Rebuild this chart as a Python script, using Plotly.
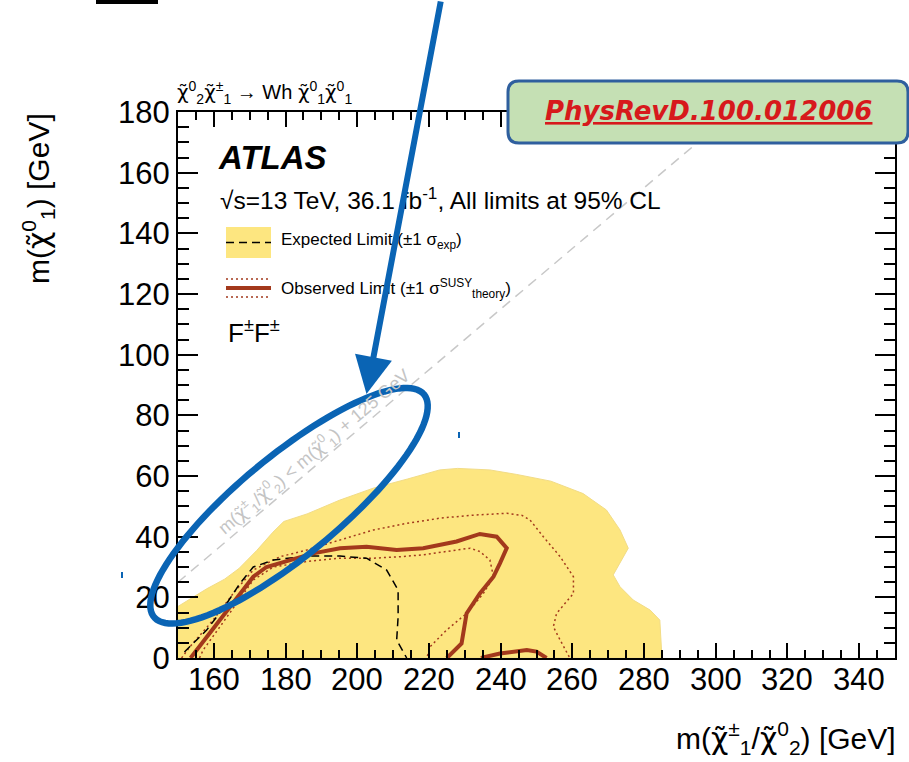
import numpy as np
import plotly.graph_objects as go

# ---------------- data ----------------
# expected +-1 sigma band outline (m(chi1+-/chi20), m(chi10)) in GeV
band_x = [150, 152, 158, 163, 167, 172, 176.5, 179.5, 186, 195, 204.5, 214, 223, 228,
          237, 244.5, 254, 263, 269.5, 273.3, 275.6, 271.4, 273.3, 277, 281.7, 284.4,
          285, 285, 150]
band_y = [17, 18.5, 22.8, 26, 29.5, 35.5, 41.5, 45, 47.5, 52, 56, 59, 62, 62.5,
          62, 60.5, 58.3, 54.2, 48.8, 42.2, 36.2, 27.4, 23.5, 19.1, 15.8, 12.5,
          2.6, 0, 0]

# expected limit (dashed)
exp_x = [151.8, 158, 163.6, 167.3, 171, 176.6, 185.9, 195.2, 202.6, 208.2, 211.4, 211.4, 211, 213.8]
exp_y = [2, 9.2, 18, 24.6, 30, 32.3, 33.6, 33.6, 32.9, 29, 22.4, 13.6, 5.9, 0]

# observed limit (solid), two pieces
obs_x = [153.5, 158, 163.6, 167.3, 171, 174.7, 181.2, 187.7, 195.2, 202.6, 211, 218.4,
         227.7, 234.2, 238.9, 241.7, 239.8, 238, 234.2, 230.5, 229.1, 225]
obs_y = [0, 7, 15.8, 21.3, 26.8, 30, 32.3, 34.5, 36.2, 36.7, 35.6, 36.2,
         38.4, 40.9, 40, 36.2, 31.2, 26.8, 21.3, 14.7, 4.8, 0]
obs2_x = [234.5, 239.8, 247.3, 250, 252.8]
obs2_y = [0, 1.5, 2.6, 2.1, 0]

# observed +1 sigma theory (dotted)
obs_up_x = [151, 153.3, 159.8, 165.4, 171, 178.5, 185.9, 195.2, 204.5, 213.8, 223.1, 232.4,
            241.7, 246, 248.2, 251.9, 256.6, 260.3, 260.3, 255.6, 254.7, 256.6, 259.3]
obs_up_y = [0, 3.7, 12.5, 21.3, 29, 33.4, 35.6, 38.9, 42.2, 44.4, 46.1, 47.1,
            47.7, 47, 45.5, 40, 33.4, 26.8, 21.3, 14.7, 10.3, 5.9, 0]
# observed -1 sigma theory (dotted)
obs_dn_x = [156, 157, 161.7, 166.4, 171, 176.6, 185.9, 195.2, 204.5, 212, 218.4, 227.7,
            231.5, 234.2, 237, 238, 235.2, 230.5, 224.9, 220.3, 219.4]
obs_dn_y = [0, 2.6, 10.3, 18, 25.7, 30, 31.8, 32.9, 32.9, 33.4, 34, 35.6,
            36.2, 35.1, 32.3, 26.8, 21.3, 14.7, 9.2, 3.7, 0]

# kinematic limit m(chi1+-/chi20) = m(chi10) + m_h
M_HIGGS = 125
diag_x = [150, 305]
diag_y = [x - M_HIGGS for x in diag_x]

x_ticks = list(range(160, 341, 20))
y_ticks = list(range(0, 181, 20))

# ---------------- geometry helpers ----------------
W, H = 909, 762
L, R, T, B = 178, 14, 112, 104
PW, PH = W - L - R, H - T - B


def pp(xp, yp):
    """pixel -> paper"""
    return (xp - L) / PW, (H - B - yp) / PH


FONT = "Liberation Sans, Arial, sans-serif"
OBS_C = "#a3391c"
BLUE = "#0a64b4"
CHI = '<span style="font-family:\'DejaVu Sans\'">\u03c7\u0303</span>'

fig = go.Figure()

fig.add_trace(go.Scatter(x=band_x, y=band_y, mode="lines", fill="toself",
                         fillcolor="#fde680", line=dict(color="#f2dc86", width=1),
                         hoverinfo="skip", showlegend=False))
fig.add_trace(go.Scatter(x=diag_x, y=diag_y, mode="lines",
                         line=dict(color="#c8c8c8", width=1.5, dash="10px,7px"),
                         hoverinfo="skip", showlegend=False))
for xs, ys in [(obs_up_x, obs_up_y), (obs_dn_x, obs_dn_y)]:
    fig.add_trace(go.Scatter(x=xs, y=ys, mode="lines",
                             line=dict(color=OBS_C, width=1.5, dash="2px,3px"),
                             hoverinfo="skip", showlegend=False))
fig.add_trace(go.Scatter(x=exp_x, y=exp_y, mode="lines",
                         line=dict(color="black", width=1.5, dash="8px,5px"),
                         hoverinfo="skip", showlegend=False))
for xs, ys in [(obs_x, obs_y), (obs2_x, obs2_y)]:
    fig.add_trace(go.Scatter(x=xs, y=ys, mode="lines",
                             line=dict(color=OBS_C, width=4),
                             hoverinfo="skip", showlegend=False))

shapes = []
# legend symbols
x0, y0 = pp(226, 258)
x1, y1 = pp(271, 227)
shapes.append(dict(type="rect", xref="paper", yref="paper", x0=x0, y0=y0, x1=x1, y1=y1,
                   fillcolor="#fde680", line=dict(width=0), layer="above"))
_, ym = pp(0, 242.5)
shapes.append(dict(type="line", xref="paper", yref="paper", x0=x0, x1=x1, y0=ym, y1=ym,
                   line=dict(color="black", width=1.5, dash="8px,5px"), layer="above"))
for ypx, wdt, dsh in [(279, 1.5, "2px,3px"), (297, 1.5, "2px,3px"), (288, 4, "solid")]:
    _, yy = pp(0, ypx)
    shapes.append(dict(type="line", xref="paper", yref="paper", x0=x0, x1=x1, y0=yy, y1=yy,
                       line=dict(color=OBS_C, width=wdt, dash=dsh), layer="above"))

# blue ellipse
cx, cy, a, b, th = 289, 505.75, 175, 50, np.radians(39.5)
t = np.linspace(0, 2 * np.pi, 120)
ex = cx + a * np.cos(t) * np.cos(th) - b * np.sin(t) * np.sin(th)
ey = cy - (a * np.cos(t) * np.sin(th) + b * np.sin(t) * np.cos(th))
pts = [pp(u, v) for u, v in zip(ex, ey)]
path = "M " + " L ".join(f"{u:.5f},{v:.5f}" for u, v in pts) + " Z"
shapes.append(dict(type="path", xref="paper", yref="paper", path=path,
                   line=dict(color=BLUE, width=6.5), layer="above"))

# green reference box (rounded)
bx0, by0, bx1, by1, rr = 508, 81, 908, 143, 11


def P(u, v):
    q = pp(u, v)
    return f"{q[0]:.5f},{q[1]:.5f}"


box = (f"M {P(bx0+rr, by0)} L {P(bx1-rr, by0)} Q {P(bx1, by0)} {P(bx1, by0+rr)} "
       f"L {P(bx1, by1-rr)} Q {P(bx1, by1)} {P(bx1-rr, by1)} "
       f"L {P(bx0+rr, by1)} Q {P(bx0, by1)} {P(bx0, by1-rr)} "
       f"L {P(bx0, by0+rr)} Q {P(bx0, by0)} {P(bx0+rr, by0)} Z")
shapes.append(dict(type="path", xref="paper", yref="paper", path=box,
                   fillcolor="#c5e0b4", line=dict(color="#2f5f9e", width=3), layer="above"))

# small stray marks of the slide
for (u, v0, v1) in [(459, 432, 438), (122, 572, 578)]:
    a0 = pp(u, v0)
    a1 = pp(u, v1)
    shapes.append(dict(type="line", xref="paper", yref="paper", x0=a0[0], x1=a1[0],
                       y0=a0[1], y1=a1[1], line=dict(color=BLUE, width=2), layer="above"))
q0 = pp(96, 0)
q1 = pp(158, 4)
shapes.append(dict(type="rect", xref="paper", yref="paper", x0=q0[0], x1=q1[0],
                   y0=q1[1], y1=q0[1], fillcolor="black", line=dict(width=0), layer="above"))

ann = []


def text(xpx, ypx, s, size, color="black", xanchor="left", family=FONT, **kw):
    u, v = pp(xpx, ypx)
    d = dict(xref="paper", yref="paper", x=u, y=v, text=s, showarrow=False,
             xanchor=xanchor, yanchor="middle",
             font=dict(family=family, size=size, color=color))
    d.update(kw)
    ann.append(d)


# x tick labels (placed from the tick list)
_, ylab = pp(0, 679)
for v in x_ticks:
    ann.append(dict(xref="x", yref="paper", x=v, y=ylab, text=str(v), showarrow=False,
                    xanchor="center", yanchor="middle",
                    font=dict(family=FONT, size=31, color="black")))

text(175, 93, f"{CHI}<sup>0</sup><sub>2</sub>{CHI}<sup>±</sup><sub>1</sub> → Wh "
              f"{CHI}<sup>0</sup><sub>1</sub>{CHI}<sup>0</sup><sub>1</sub>", 20)
text(216, 157, "<b><i>ATLAS</i></b>", 33)
text(218, 198, "√s=13 TeV, 36.1 fb<sup>-1</sup>, All limits at 95% CL", 24.5)
text(279, 241, "Expected Limit (±1 σ<sub>exp</sub>)", 17)
text(279, 288, "Observed Limit (±1 σ<sup>SUSY</sup><sub>theory</sub>)", 17)
text(226, 331, "F<sup>±</sup>F<sup>±</sup>", 26)

# label along the kinematic line (data coords)
lx = 188
ann.append(dict(xref="x", yref="y", x=lx, y=lx - M_HIGGS + 5,
                text=f"m({CHI}<sup>±</sup><sub>1</sub>/{CHI}<sup>0</sup><sub>2</sub>) &lt; "
                     f"m({CHI}<sup>0</sup><sub>1</sub>) + 125 GeV",
                showarrow=False, textangle=-40.2, xanchor="center", yanchor="middle",
                font=dict(family=FONT, size=18, color="#c4c4c4")))

text(708, 111, "<b><i><u>PhysRevD.100.012006</u></i></b>", 26, color="#d7191c",
     xanchor="center", family="DejaVu Sans")

# axis titles
text(898, 738, f"m({CHI}<sup>±</sup><sub>1</sub>/{CHI}<sup>0</sup><sub>2</sub>) [GeV]", 30,
     xanchor="right")
text(38, 199, f"m({CHI}<sup>0</sup><sub>1</sub>) [GeV]", 30, xanchor="center", textangle=-90)

# blue arrow (drawn last, on top of text)
tip = pp(366.5, 394)
ann.append(dict(xref="paper", yref="paper", x=tip[0], y=tip[1], ax=441 - 366.5, ay=0 - 394,
                axref="pixel", ayref="pixel", text="", showarrow=True, arrowhead=2,
                arrowsize=1.25, arrowwidth=6, arrowcolor=BLUE, standoff=0, startstandoff=0))

axis_common = dict(showgrid=False, zeroline=False, showline=True, linecolor="black",
                   linewidth=2, mirror="allticks", ticks="inside", tickcolor="black",
                   tickwidth=1.5, tickfont=dict(family=FONT, size=31, color="black"))

fig.update_layout(
    width=W, height=H, autosize=False,
    margin=dict(l=L, r=R, t=T, b=B, pad=0),
    paper_bgcolor="white", plot_bgcolor="white",
    showlegend=False,
    shapes=shapes, annotations=ann,
    xaxis=dict(range=[150, 350], tickmode="array", tickvals=x_ticks,
               showticklabels=False, ticklen=15,
               minor=dict(dtick=5, tick0=150, ticklen=8, ticks="inside",
                          tickcolor="black", tickwidth=1.5, showgrid=False),
               **axis_common),
    yaxis=dict(range=[0, 180], tickmode="array", tickvals=y_ticks,
               ticktext=[str(v) for v in y_ticks], ticklen=20,
               minor=dict(dtick=5, tick0=0, ticklen=11, ticks="inside",
                          tickcolor="black", tickwidth=1.5, showgrid=False),
               **axis_common),
)

fig.write_html("out.html")
